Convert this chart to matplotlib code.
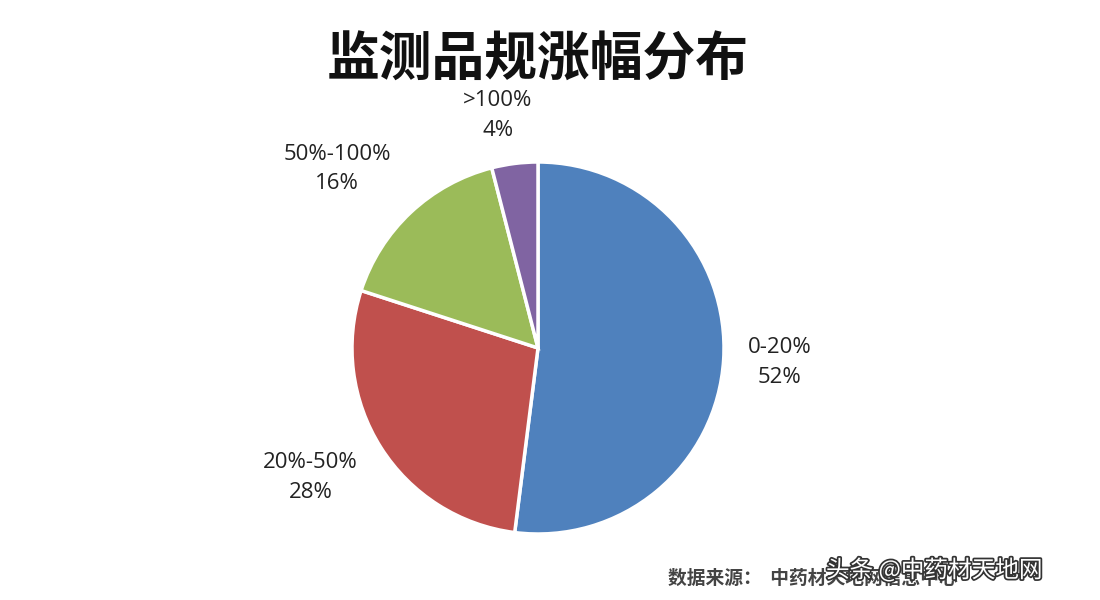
import matplotlib
matplotlib.use("Agg")
import matplotlib.pyplot as plt
import matplotlib.patheffects as pe

plt.rcParams['font.family'] = ['Noto Sans CJK SC', 'DejaVu Sans']

categories = ["0-20%", "20%-50%", "50%-100%", ">100%"]
values = [52, 28, 16, 4]
colors = ["#4F81BD", "#C0504D", "#9BBB59", "#8064A2"]
label_pos = [(1.30, -0.076), (-1.222, -0.697), (-1.081, 0.962), (-0.216, 1.249)]

title = "监测品规涨幅分布"
source = "数据来源：  中药材天地网信息中心"
watermark = "头条 @中药材天地网"

fig = plt.figure(figsize=(11, 6), dpi=100)
fig.patch.set_facecolor("white")

cx, cy, r = 538, 348, 186
ax = fig.add_axes([(cx - r) / 1100, (600 - cy - r) / 600, 2 * r / 1100, 2 * r / 600])
ax.pie(values, colors=colors, startangle=90, counterclock=False, radius=1,
       wedgeprops=dict(edgecolor="white", linewidth=2.5))
ax.set_xlim(-1.0, 1.0)
ax.set_ylim(-1.0, 1.0)
ax.set_aspect("equal")
ax.axis("off")

for cat, v, (x, y) in zip(categories, values, label_pos):
    ax.text(x, y, f"{cat}\n{v}%", ha="center", va="center", fontsize=16,
            family=["Open Sans", "DejaVu Sans"], color="#222222", linespacing=1.55,
            clip_on=False)

fig.text(538 / 1100, 1 - 60 / 600, title, ha="center", va="center",
         fontsize=38, fontweight="bold", color="#111111")

fig.text(668 / 1100, 1 - 578 / 600, source, ha="left", va="center",
         fontsize=13.5, color="#444444", fontweight="bold")

fig.text(826 / 1100, 1 - 570 / 600, watermark, ha="left", va="center",
         fontsize=17, color="white",
         path_effects=[pe.withStroke(linewidth=2.5, foreground="#333333")])

fig.savefig("out.png", dpi=100, facecolor="white")
